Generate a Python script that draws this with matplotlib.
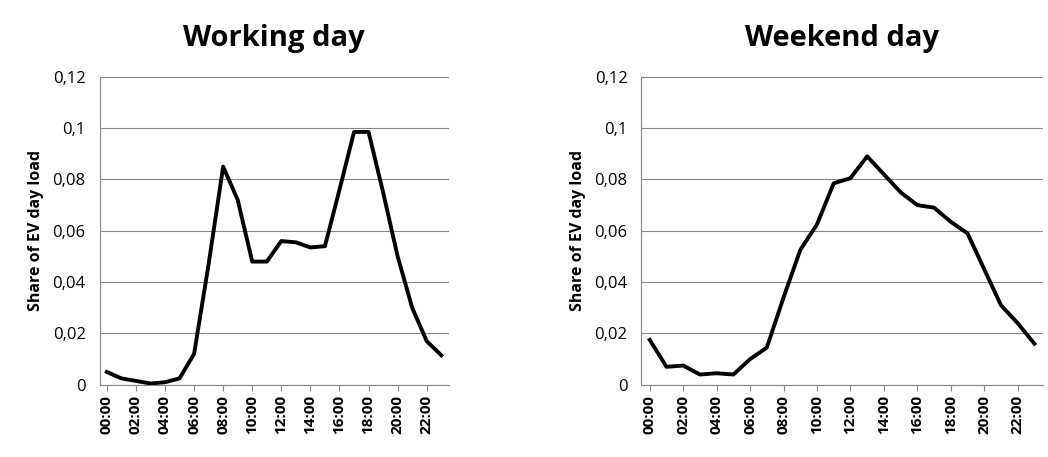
import matplotlib.pyplot as plt
from matplotlib.ticker import FuncFormatter

hours = [f"{h:02d}:00" for h in range(24)]
working = [0.005, 0.0025, 0.0015, 0.0005, 0.001, 0.0025, 0.012, 0.047, 0.085, 0.072,
           0.048, 0.048, 0.056, 0.0555, 0.0535, 0.054, 0.076, 0.0985, 0.0985, 0.075,
           0.05, 0.03, 0.017, 0.0115]
weekend = [0.0175, 0.007, 0.0075, 0.004, 0.0045, 0.004, 0.01, 0.0145, 0.034, 0.0525,
           0.0625, 0.0785, 0.0805, 0.089, 0.082, 0.075, 0.07, 0.069, 0.0635, 0.059,
           0.045, 0.031, 0.024, 0.016]
yticks = [0, 0.02, 0.04, 0.06, 0.08, 0.1, 0.12]

plt.rcParams['font.family'] = ['Open Sans', 'DejaVu Sans']
fig = plt.figure(figsize=(10.48, 4.57), dpi=100)

def fmt(v, _):
    return "0" if v == 0 else f"{v:g}".replace('.', ',')

def panel(rect, data, title):
    ax = fig.add_axes(rect)
    ax.plot(range(24), data, color='black', lw=2.8)
    ax.set_xlim(-0.5, 23.5)
    ax.set_ylim(0, 0.12)
    ax.set_yticks(yticks)
    ax.yaxis.set_major_formatter(FuncFormatter(fmt))
    ax.set_xticks(range(0, 24, 2))
    ax.set_xticklabels(hours[::2], rotation=90, fontweight='bold', fontsize=11)
    ax.tick_params(axis='y', labelsize=12, length=0, pad=10)
    ax.tick_params(axis='x', length=4, color='#888888')
    ax.grid(axis='y', color='#888888', lw=0.8)
    ax.set_axisbelow(True)
    for s in ['top', 'right']:
        ax.spines[s].set_visible(False)
    for s in ['left', 'bottom']:
        ax.spines[s].set_color('#888888')
    ax.set_ylabel('Share of EV day load', fontweight='bold', fontsize=11.5, labelpad=6)
    fig.text(rect[0] + rect[2] / 2, 0.915, title, ha='center', va='center',
             fontsize=21, fontweight='bold')
    return ax

panel([0.095, 0.158, 0.333, 0.674], working, 'Working day')
panel([0.612, 0.158, 0.383, 0.674], weekend, 'Weekend day')

fig.savefig('out.png', dpi=100)
